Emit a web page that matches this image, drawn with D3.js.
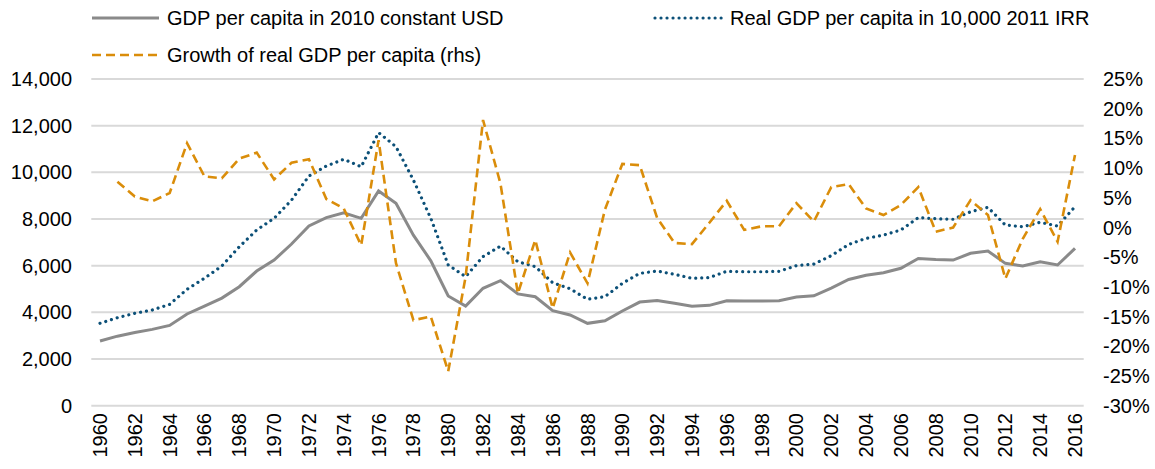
<!DOCTYPE html>
<html>
<head>
<meta charset="utf-8">
<title>GDP per capita</title>
<script src="https://d3js.org/d3.v7.min.js"></script>
<style>
  body { margin: 0; background: #fff; }
  text { font-family: "Liberation Sans", Arial, sans-serif; fill: #000; }
</style>
</head>
<body>
<div id="chart"></div>
<script>
// years on the category axis
var years = d3.range(1960, 2017);

// GDP per capita in 2010 constant USD (left axis)
var gdpUsd = [2770, 2980, 3140, 3270, 3440, 3930, 4270, 4610, 5100, 5770,
  6240, 6930, 7700, 8060, 8270, 8030, 9200, 8670, 7310, 6210,
  4700, 4270, 5030, 5360, 4790, 4670, 4070, 3890, 3530, 3640,
  4060, 4440, 4510, 4390, 4260, 4300, 4500, 4490, 4490, 4500,
  4660, 4710, 5040, 5410, 5590, 5700, 5890, 6310, 6260, 6240,
  6530, 6630, 6100, 5990, 6170, 6030, 6740];

// Real GDP per capita in 10,000 2011 IRR (left axis)
var gdpIrr = [3530, 3770, 3960, 4100, 4340, 4990, 5460, 5990, 6810, 7530,
  8030, 8810, 9840, 10270, 10560, 10240, 11700, 11100, 9670, 8030,
  6030, 5530, 6390, 6840, 6170, 5960, 5270, 5010, 4560, 4670,
  5240, 5670, 5770, 5630, 5460, 5490, 5760, 5740, 5740, 5760,
  6000, 6070, 6430, 6910, 7170, 7310, 7530, 8060, 8010, 7990,
  8310, 8500, 7740, 7670, 7860, 7700, 8530];

// Growth of real GDP per capita, % (right axis), no value for 1960
var growth = [null, 7.7, 5.2, 4.4, 5.8, 14.2, 8.6, 8.3, 11.6, 12.6,
  8.1, 10.9, 11.5, 4.8, 3.2, -3.0, 14.7, -6.0, -15.6, -15.0,
  -24.2, -8.3, 18.1, 7.4, -11.1, -2.1, -13.6, -4.2, -9.4, 3.0,
  10.7, 10.5, 1.6, -2.6, -2.8, 0.8, 4.5, -0.4, 0.2, 0.2,
  4.1, 1.0, 6.8, 7.3, 3.2, 2.1, 3.8, 6.8, -0.7, 0.0,
  4.6, 2.1, -8.6, -1.9, 3.1, -2.4, 12.2];

var leftTicks = d3.range(0, 14001, 2000);
var rightTicks = d3.range(-30, 26, 5);

var seriesNames = ["GDP per capita in 2010 constant USD",
  "Real GDP per capita in 10,000 2011 IRR",
  "Growth of real GDP per capita (rhs)"];

var width = 1155, height = 469;

var svg = d3.select("#chart").append("svg")
    .attr("width", width)
    .attr("height", height);

var x = d3.scaleBand().domain(years).range([91.3, 1083.7]);
var yL = d3.scaleLinear().domain([0, 14000]).range([405.7, 79]);
var yR = d3.scaleLinear().domain([-30, 25]).range([405.7, 79]);
var cx = function(d) { return x(d) + x.bandwidth() / 2; };

// gridlines
svg.selectAll(".grid")
  .data(leftTicks)
  .enter().append("line")
    .attr("x1", 91.3).attr("x2", 1083.7)
    .attr("y1", function(d) { return yL(d); })
    .attr("y2", function(d) { return yL(d); })
    .attr("stroke", "#d9d9d9")
    .attr("stroke-width", 2);

// left axis labels
svg.selectAll(".ltick")
  .data(leftTicks)
  .enter().append("text")
    .attr("x", 72)
    .attr("y", function(d) { return yL(d); })
    .attr("dy", "0.35em")
    .attr("text-anchor", "end")
    .style("font-size", "20px")
    .text(d3.format(","));

// right axis labels
svg.selectAll(".rtick")
  .data(rightTicks)
  .enter().append("text")
    .attr("x", 1103)
    .attr("y", function(d) { return yR(d); })
    .attr("dy", "0.35em")
    .style("font-size", "20px")
    .text(function(d) { return d + "%"; });

// x labels, every second year
svg.selectAll(".xtick")
  .data(years.filter(function(d) { return d % 2 === 0; }))
  .enter().append("text")
    .attr("transform", function(d) { return "translate(" + cx(d) + ",413) rotate(-90)"; })
    .attr("dy", "0.35em")
    .attr("text-anchor", "end")
    .style("font-size", "20px")
    .text(function(d) { return d; });

var lineL = function(vals) {
  return d3.line()
    .x(function(d, i) { return cx(years[i]); })
    .y(function(d) { return yL(d); })(vals);
};

var lineR = d3.line()
  .defined(function(d) { return d !== null; })
  .x(function(d, i) { return cx(years[i]); })
  .y(function(d) { return yR(d); });

svg.append("path")
  .attr("d", lineL(gdpUsd))
  .attr("fill", "none")
  .attr("stroke", "#8a8a8a")
  .attr("stroke-width", 3);

svg.append("path")
  .attr("d", lineL(gdpIrr))
  .attr("fill", "none")
  .attr("stroke", "#0c5078")
  .attr("stroke-width", 3.2)
  .attr("stroke-linecap", "round")
  .attr("stroke-dasharray", "0.01 6");

svg.append("path")
  .attr("d", lineR(growth))
  .attr("fill", "none")
  .attr("stroke", "#da8d0a")
  .attr("stroke-width", 2.6)
  .attr("stroke-dasharray", "9 5");

// legend
var legend = [
  { name: seriesNames[0], x: 92, y: 18, color: "#8a8a8a", dash: null, cap: "butt", w: 3 },
  { name: seriesNames[1], x: 655, y: 18, color: "#0c5078", dash: "0.01 6", cap: "round", w: 3.2 },
  { name: seriesNames[2], x: 92, y: 55, color: "#da8d0a", dash: "9 5", cap: "butt", w: 2.6 }
];

var lg = svg.selectAll(".legend")
  .data(legend)
  .enter().append("g");

lg.append("line")
  .attr("x1", function(d) { return d.x; })
  .attr("x2", function(d) { return d.x + 67; })
  .attr("y1", function(d) { return d.y; })
  .attr("y2", function(d) { return d.y; })
  .attr("stroke", function(d) { return d.color; })
  .attr("stroke-width", function(d) { return d.w; })
  .attr("stroke-linecap", function(d) { return d.cap; })
  .attr("stroke-dasharray", function(d) { return d.dash; });

lg.append("text")
  .attr("x", function(d) { return d.x + 75; })
  .attr("y", function(d) { return d.y; })
  .attr("dy", "0.35em")
  .style("font-size", "20px")
  .text(function(d) { return d.name; });
</script>
</body>
</html>
